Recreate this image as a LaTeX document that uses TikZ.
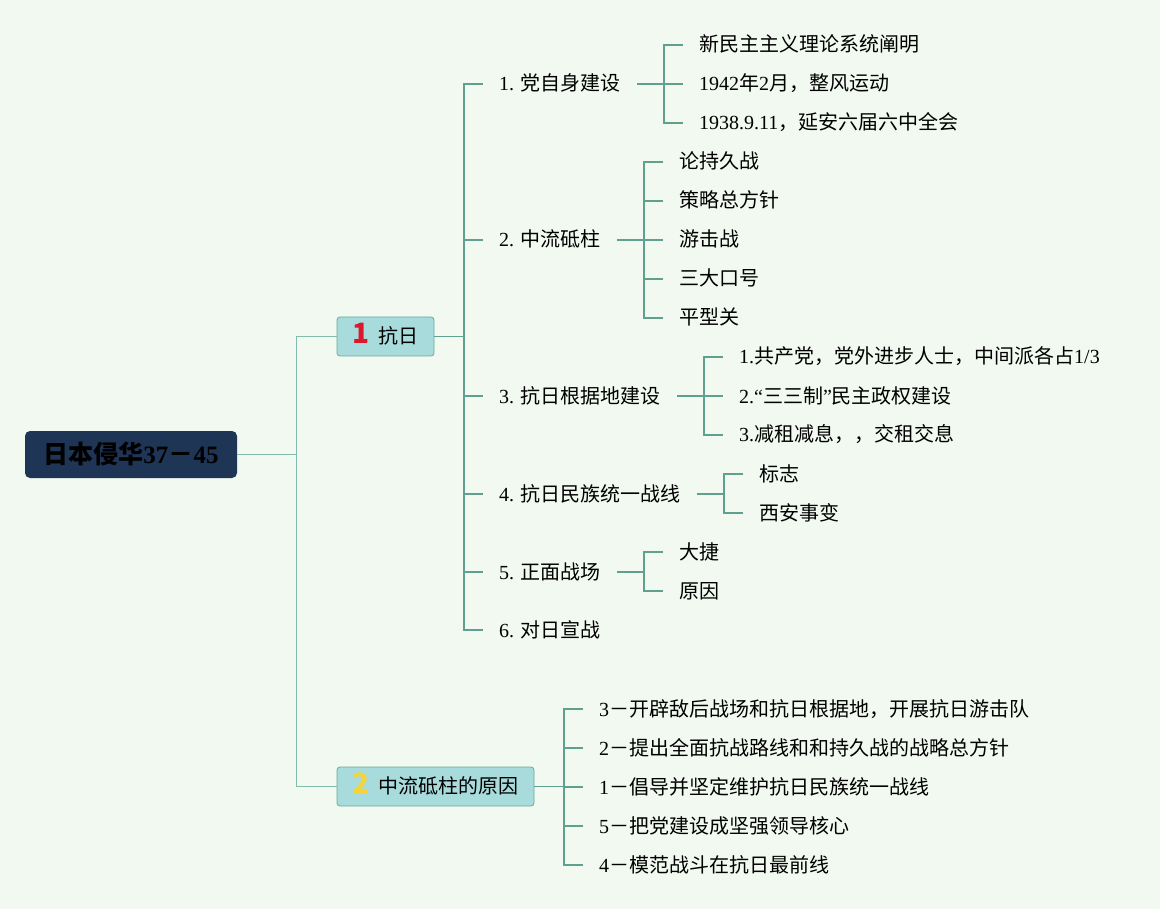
\documentclass[tikz,border=0pt]{standalone}
\usepackage{fontspec}
\setmainfont{Liberation Serif}
\newfontfamily\cjk{Noto Sans CJK SC}
\usepackage{tikz}
\definecolor{bg}{RGB}{241,249,240}
\definecolor{linkc}{RGB}{96,160,144}
\definecolor{rootlinkc}{RGB}{130,188,172}
\definecolor{boxfill}{RGB}{168,219,219}
\definecolor{boxline}{RGB}{110,170,155}
\definecolor{rootfill}{RGB}{31,53,86}
\definecolor{numred}{RGB}{222,24,44}
\definecolor{numyellow}{RGB}{246,212,60}
\newcommand{\lat}[1]{{\rmfamily #1}}
\tikzstyle{rootbox}=[rounded corners=5pt, fill=rootfill, minimum width=212pt, minimum height=47pt, text height=19pt, text depth=2pt, font=\cjk\bfseries\fontsize{25}{29}\selectfont]
\tikzstyle{topicbox}=[rounded corners=3pt, draw=boxline, line width=.8pt, fill=boxfill, minimum height=39pt, text height=16pt, text depth=2pt, font=\cjk\fontsize{20}{24}\selectfont]
\tikzstyle{leaf}=[anchor=west, inner xsep=16pt, inner ysep=0pt, text height=16pt, text depth=2pt, font=\cjk\fontsize{20}{24}\selectfont]
\tikzstyle{conn}=[draw=linkc, line width=1.3pt]
\tikzstyle{rconn}=[draw=rootlinkc, line width=1.4pt]

\begin{document}
\begin{tikzpicture}[x=1pt, y=-1pt]
    \useasboundingbox (0,0) rectangle (1160,909);
    \fill[bg] (0,0) rectangle (1160,909);

    \node[rootbox] (root) at (131,454.5) {日本侵华\lat{37}－\lat{45}};
    \node[topicbox, minimum width=97pt] (t1) at (385.5,336.5)
      {{\bfseries\fontsize{28}{28}\selectfont\color{numred}1}\hspace{9pt}抗日};
    \node[topicbox, minimum width=197pt] (t2) at (435.5,786.5)
      {{\bfseries\fontsize{28}{28}\selectfont\color{numyellow}2}\hspace{9pt}中流砥柱的原因};

    \node[leaf] (i1) at (483,84) {\lat{1. }党自身建设};
    \node[leaf] (i2) at (483,240) {\lat{2. }中流砥柱};
    \node[leaf] (i3) at (483,396) {\lat{3. }抗日根据地建设};
    \node[leaf] (i4) at (483,494) {\lat{4. }抗日民族统一战线};
    \node[leaf] (i5) at (483,572) {\lat{5. }正面战场};
    \node[leaf] (i6) at (483,630) {\lat{6. }对日宣战};

    \node[leaf] (a1) at (683,45) {新民主主义理论系统阐明};
    \node[leaf] (a2) at (683,84) {\lat{1942}年\lat{2}月，整风运动};
    \node[leaf] (a3) at (683,123) {\lat{1938.9.11}，延安六届六中全会};

    \node[leaf] (b1) at (663,162) {论持久战};
    \node[leaf] (b2) at (663,201) {策略总方针};
    \node[leaf] (b3) at (663,240) {游击战};
    \node[leaf] (b4) at (663,279) {三大口号};
    \node[leaf] (b5) at (663,318) {平型关};

    \node[leaf] (c1) at (723,357) {\lat{1.}共产党，党外进步人士，中间派各占\lat{1/3}};
    \node[leaf] (c2) at (723,396) {\lat{2.“}三三制\lat{”}民主政权建设};
    \node[leaf] (c3) at (723,435) {\lat{3.}减租减息，，交租交息};

    \node[leaf] (d1) at (743,474) {标志};
    \node[leaf] (d2) at (743,513) {西安事变};

    \node[leaf] (e1) at (663,552) {大捷};
    \node[leaf] (e2) at (663,591) {原因};

    \node[leaf] (r1) at (583,709) {\lat{3}－开辟敌后战场和抗日根据地，开展抗日游击队};
    \node[leaf] (r2) at (583,748) {\lat{2}－提出全面抗战路线和和持久战的战略总方针};
    \node[leaf] (r3) at (583,787) {\lat{1}－倡导并坚定维护抗日民族统一战线};
    \node[leaf] (r4) at (583,826) {\lat{5}－把党建设成坚强领导核心};
    \node[leaf] (r5) at (583,865) {\lat{4}－模范战斗在抗日最前线};

    \foreach \from/\to in {root/t1, root/t2}
      \draw[rconn] (\from.east) -| ([xshift=-40pt]\to.west) -- (\to.west);
    \foreach \from/\to in {t1/i1, t1/i2, t1/i3, t1/i4, t1/i5, t1/i6,
          i1/a1, i1/a2, i1/a3, i2/b1, i2/b2, i2/b3, i2/b4, i2/b5,
          i3/c1, i3/c2, i3/c3, i4/d1, i4/d2, i5/e1, i5/e2,
          t2/r1, t2/r2, t2/r3, t2/r4, t2/r5}
      \draw[conn] (\from.east) -| ([xshift=-19pt]\to.west) -- (\to.west);
\end{tikzpicture}
\end{document}
